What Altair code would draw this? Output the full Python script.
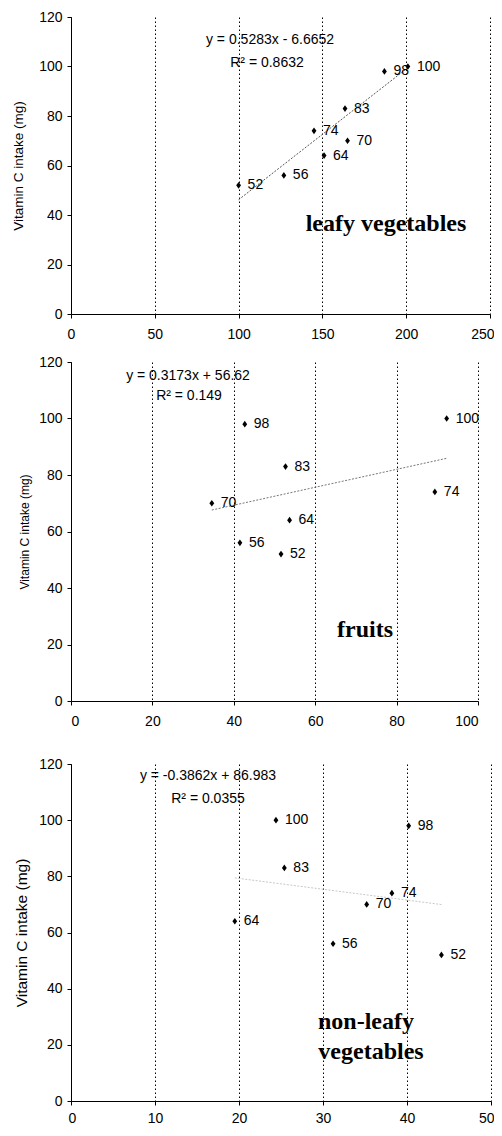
import altair as alt
import pandas as pd

# Vitamin C intake (mg) — the labelled values, same for every panel
vitc = [52, 56, 64, 70, 74, 83, 98, 100]
# x values per food group, in the order of vitc
leafy_x = [100, 127, 151, 165, 145, 163.5, 187, 201]
fruit_x = [51.6, 41.5, 53.7, 34.6, 89.4, 52.7, 42.7, 92.3]
nonleafy_x = [44.1, 31.2, 19.5, 35.2, 38.2, 25.4, 40.2, 24.4]

categories = [["leafy vegetables"], ["fruits"], ["non-leafy", "vegetables"]]
slopes = [0.5283, 0.3173, -0.3862]
intercepts = [-6.6652, 56.62, 86.983]
r2_values = ["0.8632", "0.149", "0.0355"]
x_max = [250, 100, 50]
x_step = [50, 20, 10]
y_ticks = [0, 20, 40, 60, 80, 100, 120]

SANS = "Liberation Sans"
SERIF = "Liberation Serif"
DIAMOND = "M0,-1L0.72,0L0,1L-0.72,0Z"


def eq_text(s, b):
    sign = "-" if b < 0 else "+"
    return f"y = {s}x {sign} {abs(b)}"


def panel(i, xs, width, height, title_size, title_pad, line_color,
          eq_pos, r2_pos, cat_pos, flush_off, xlabel_pad):
    df = pd.DataFrame({"x": xs, "y": vitc, "label": [str(v) for v in vitc]})
    lo, hi = min(xs), max(xs)
    trend = pd.DataFrame({"x": [lo, hi],
                          "y": [slopes[i] * lo + intercepts[i],
                                slopes[i] * hi + intercepts[i]]})
    xs_ = alt.Scale(domain=[0, x_max[i]], nice=False)
    ys_ = alt.Scale(domain=[0, 120], nice=False)
    xax = alt.Axis(values=list(range(0, x_max[i] + 1, x_step[i])), grid=True,
                   gridColor="black", gridDash=[1.5, 2.5], gridWidth=1,
                   domainColor="black", tickColor="black", tickSize=4,
                   labelFontSize=14, labelPadding=xlabel_pad, labelColor="black",
                   labelFont=SANS, title=None, labelFlush=True,
                   labelFlushOffset=flush_off)
    yax = alt.Axis(values=y_ticks, grid=False, domainColor="black",
                   tickColor="black", tickSize=4, labelFontSize=14,
                   labelPadding=5, labelColor="black", labelFont=SANS,
                   title="Vitamin C intake (mg)", titleFont=SANS,
                   titleFontSize=title_size, titleFontWeight="normal",
                   titleColor="black", titlePadding=title_pad,
                   labelFlush=False)
    X = alt.X("x:Q", scale=xs_, axis=xax)
    Y = alt.Y("y:Q", scale=ys_, axis=yax)
    line = alt.Chart(trend).mark_line(color=line_color, strokeWidth=1,
                                      strokeDash=[2, 1.5]).encode(x=X, y=Y)
    pts = alt.Chart(df).mark_point(shape=DIAMOND, filled=True, color="black",
                                   size=45, opacity=1).encode(x=X, y=Y)
    lbl = alt.Chart(df).mark_text(align="left", baseline="middle", dx=9,
                                  fontSize=14, font=SANS,
                                  color="black").encode(x=X, y=Y, text="label:N")
    eq = alt.Chart(pd.DataFrame({"t": [eq_text(slopes[i], intercepts[i])]})).mark_text(
        align="center", baseline="middle", fontSize=14, font=SANS, color="black"
    ).encode(x=alt.value(eq_pos[0]), y=alt.value(eq_pos[1]), text="t:N")
    r2 = alt.Chart(pd.DataFrame({"t": ["R² = " + r2_values[i]]})).mark_text(
        align="center", baseline="middle", fontSize=14, font=SANS, color="black"
    ).encode(x=alt.value(r2_pos[0]), y=alt.value(r2_pos[1]), text="t:N")
    layers = [line, pts, lbl, eq, r2]
    for k, word in enumerate(categories[i]):
        layers.append(
            alt.Chart(pd.DataFrame({"t": [word]})).mark_text(
                align="center", baseline="middle", fontSize=24, font=SERIF,
                fontWeight="bold", color="black"
            ).encode(x=alt.value(cat_pos[k][0]), y=alt.value(cat_pos[k][1]),
                     text="t:N")
        )
    return alt.layer(*layers).properties(width=width, height=height)


p1 = panel(0, leafy_x, 419, 297, 13.5, 13, "#555555",
           (199, 23), (196, 46), [(315, 207)], 4, 9)
p2 = panel(1, fruit_x, 407, 339, 12, 7, "#777777",
           (117, 14), (118, 34), [(294, 268)], 0, 9)
p3 = panel(2, nonleafy_x, 420, 337, 15.5, 9, "#c8c8c8",
           (137, 12), (137, 35), [(295, 258), (300, 288)], 3, 6)

top = alt.vconcat(p1, p2, spacing=14)
chart = alt.vconcat(top, p3, spacing=29).configure_view(stroke=None).properties(
    padding={"left": 3, "top": 2, "right": 0, "bottom": 0}
)
chart.save("out.html", embed_options={"renderer": "svg", "actions": False})
